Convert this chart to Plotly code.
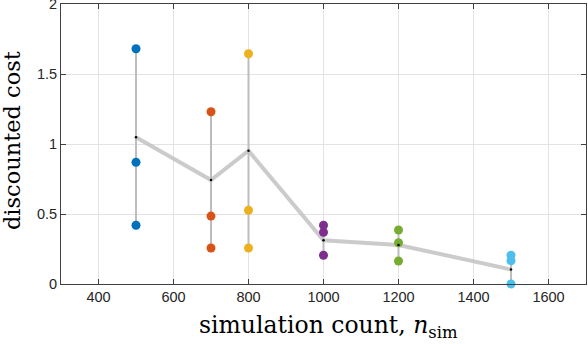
import plotly.graph_objects as go

sim_counts = [500, 700, 800, 1000, 1200, 1500]
run_costs = [
    [1.68, 0.87, 0.42],
    [1.23, 0.485, 0.257],
    [1.645, 0.527, 0.257],
    [0.42, 0.37, 0.205],
    [0.386, 0.295, 0.164],
    [0.205, 0.166, 0.0],
]
mean_costs = [1.048, 0.743, 0.952, 0.312, 0.279, 0.104]
colors = ["#0072BD", "#D95319", "#EDB120", "#7E2F8E", "#77AC30", "#4DBEEE"]
x_ticks = [400, 600, 800, 1000, 1200, 1400, 1600]
y_ticks = [0, 0.5, 1, 1.5, 2]
y_ticklabels = ["0", "0.5", "1", "1.5", "2"]
x_title = "simulation count, <i>n</i><sub>sim</sub>"
y_title = "discounted cost"

fig = go.Figure()

# range lines
for x, vals in zip(sim_counts, run_costs):
    fig.add_trace(go.Scatter(x=[x, x], y=[max(vals), min(vals)], mode="lines",
                             line=dict(color="#bdbdbd", width=2), showlegend=False,
                             hoverinfo="skip"))

# mean line
fig.add_trace(go.Scatter(x=sim_counts, y=mean_costs, mode="lines",
                         line=dict(color="rgba(190,190,190,0.8)", width=4),
                         showlegend=False))

# points
for x, vals, c in zip(sim_counts, run_costs, colors):
    fig.add_trace(go.Scatter(x=[x] * len(vals), y=vals, mode="markers",
                             marker=dict(color=c, size=9), showlegend=False,
                             cliponaxis=False))

# mean dots
fig.add_trace(go.Scatter(x=sim_counts, y=mean_costs, mode="markers",
                         marker=dict(color="black", size=2.5), showlegend=False))

axis_common = dict(
    showline=True, linecolor="#404040", linewidth=1, mirror="ticks",
    ticks="inside", ticklen=5, tickcolor="#404040",
    showgrid=True, gridcolor="#e3e3e3", gridwidth=1, zeroline=False,
    automargin=False, ticklabeloverflow="allow",
    tickfont=dict(family="Liberation Sans, Arial, sans-serif", size=14.5, color="#262626"),
)

fig.update_layout(
    width=588, height=344,
    margin=dict(l=61, r=2, t=4, b=60, autoexpand=False),
    paper_bgcolor="white", plot_bgcolor="white",
    xaxis=dict(range=[300, 1700], tickvals=x_ticks, **axis_common),
    yaxis=dict(range=[0, 2], tickvals=y_ticks, ticktext=y_ticklabels, **axis_common),
    annotations=[
        dict(text=x_title, xref="paper", yref="paper", x=0.509, y=-0.15,
             xanchor="center", yanchor="middle", showarrow=False,
             font=dict(family="DejaVu Serif, serif", size=23.5, color="black")),
        dict(text=y_title, xref="paper", yref="paper", x=-0.093, y=0.511,
             xanchor="center", yanchor="middle", showarrow=False, textangle=-90,
             font=dict(family="DejaVu Serif, serif", size=22.5, color="black")),
    ],
)

fig.write_html("out.html", config={"displayModeBar": False},
               post_script="document.body.style.margin='0';")
